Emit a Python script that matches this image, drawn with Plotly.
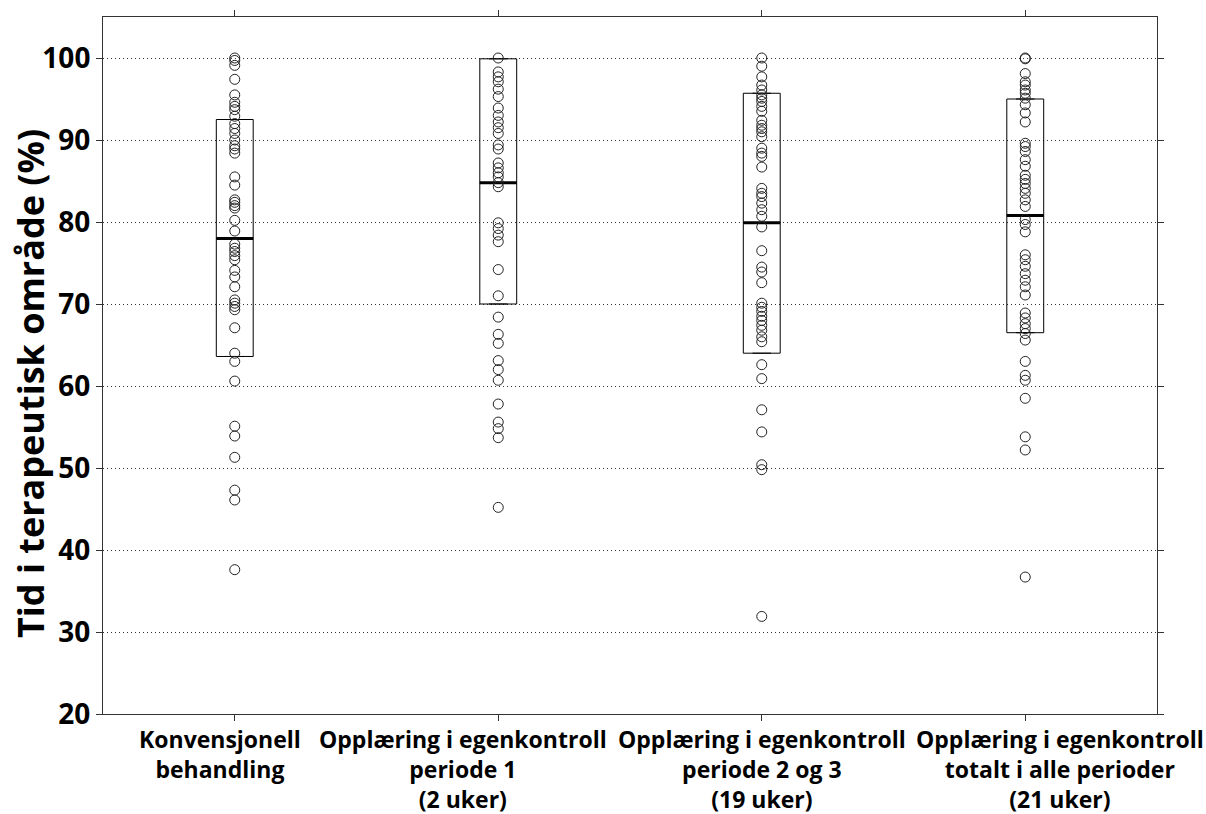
import plotly.graph_objects as go

# Group labels shown under the x axis
categories = [
    "Konvensjonell<br>behandling",
    "Opplæring i egenkontroll<br>periode 1<br>(2 uker)",
    "Opplæring i egenkontroll<br>periode 2 og 3<br>(19 uker)",
    "Opplæring i egenkontroll<br>totalt i alle perioder<br>(21 uker)",
]

# Time in therapeutic range (%) per patient, one list per group
konvensjonell = [100, 99.7, 99.1, 97.4, 95.5, 94.6, 94.1, 93.7, 92.9, 92.0, 91.4,
                 90.8, 90.0, 89.3, 88.9, 88.4, 85.5, 84.5, 82.7, 82.4, 82.0, 81.7,
                 80.2, 78.9, 77.3, 76.8, 76.4, 75.9, 75.4, 74.1, 73.3, 72.1, 70.5,
                 70.1, 69.7, 69.3, 67.1, 64.0, 63.0, 60.6, 55.1, 53.9, 51.3, 47.3,
                 46.1, 37.6]
periode1 = [100, 98.3, 97.7, 97.1, 96.2, 95.3, 93.9, 93.0, 92.2, 91.5, 90.8, 89.4,
            88.9, 87.2, 86.6, 86.0, 85.5, 84.8, 84.3, 79.9, 79.2, 78.4, 77.6, 74.2,
            71.0, 68.4, 66.3, 65.2, 63.1, 62.0, 60.7, 57.8, 55.6, 54.8, 53.7, 45.2]
periode23 = [100, 99.0, 97.7, 96.7, 96.1, 95.5, 95.1, 94.7, 94.1, 93.5, 92.4, 91.8,
             91.4, 91.0, 90.4, 89.0, 88.4, 88.0, 86.7, 84.1, 83.5, 83.1, 82.3, 81.5,
             80.7, 79.4, 76.5, 74.5, 73.9, 72.6, 70.1, 69.6, 69.1, 68.5, 68.0, 67.4,
             66.8, 66.0, 65.4, 62.6, 60.9, 57.1, 54.4, 50.4, 49.8, 31.9]
totalt = [100, 99.9, 98.1, 97.1, 96.7, 96.1, 95.7, 95.1, 94.3, 93.3, 92.2, 89.6,
          89.2, 88.6, 87.6, 86.8, 85.7, 85.2, 84.7, 84.1, 83.5, 82.7, 81.9, 80.3,
          79.7, 78.8, 76.0, 75.4, 74.6, 73.7, 72.9, 72.1, 71.1, 68.9, 68.3, 67.6,
          67.0, 66.4, 65.6, 63.0, 61.3, 60.7, 58.5, 53.8, 52.2, 36.7]
groups = [konvensjonell, periode1, periode23, totalt]

# Box bounds and medians per group
box_low = [63.6, 70.0, 64.0, 66.5]
box_median = [78.0, 84.8, 79.9, 80.8]
box_high = [92.5, 99.9, 95.7, 95.0]

y_ticks = [20, 30, 40, 50, 60, 70, 80, 90, 100]
y_title = "Tid i terapeutisk område (%)"

BOX_W = 0.14
FONT = "Open Sans"
# horizontal nudge (px) of each category label block
LABEL_SHIFT = [-15, -35, 0, 35]

fig = go.Figure()

for i, vals in enumerate(groups):
    fig.add_trace(go.Box(
        x=[i], q1=[box_low[i]], median=[box_median[i]], q3=[box_high[i]],
        lowerfence=[box_low[i]], upperfence=[box_high[i]],
        width=BOX_W, fillcolor="rgba(0,0,0,0)",
        line=dict(color="black", width=1), boxpoints=False,
        showlegend=False, hoverinfo="skip",
    ))
    # thick median bar across the box
    fig.add_trace(go.Scatter(
        x=[i - BOX_W / 2, i + BOX_W / 2], y=[box_median[i], box_median[i]],
        mode="lines", line=dict(color="black", width=3),
        showlegend=False, hoverinfo="skip",
    ))
    fig.add_trace(go.Scatter(
        x=[i] * len(vals), y=vals, mode="markers",
        marker=dict(symbol="circle-open", size=10, color="#222",
                    line=dict(width=1, color="#222")),
        showlegend=False,
    ))
    # category label under the axis
    fig.add_annotation(
        text=f"<b>{categories[i]}</b>", x=i, xref="x", y=0, yref="paper",
        xanchor="center", yanchor="top", yshift=-7, xshift=LABEL_SHIFT[i],
        showarrow=False, align="center",
        font=dict(family=FONT, size=23, color="black"),
    )

axis_common = dict(
    showline=True, linecolor="#333", linewidth=1, mirror="ticks",
    ticks="outside", ticklen=6, tickcolor="#333", tickwidth=1,
    zeroline=False, automargin=False,
)

fig.update_xaxes(
    **axis_common,
    range=[-0.5, 3.5], tickmode="array", tickvals=list(range(len(categories))),
    showticklabels=False, showgrid=False,
)
fig.update_yaxes(
    **axis_common,
    range=[20, 105], tickmode="array", tickvals=y_ticks,
    ticktext=[f"<b>{t}</b>" for t in y_ticks], tickangle=0,
    tickfont=dict(family=FONT, size=28, color="black"),
    showgrid=True, gridcolor="#333", gridwidth=1, griddash="1px,3px",
)

# rotated y-axis title placed as a free annotation
fig.add_annotation(
    text=f"<b>{y_title}</b>", textangle=-90,
    xref="paper", yref="paper", x=-0.0683, y=0.4735,
    xanchor="center", yanchor="middle", showarrow=False,
    font=dict(family=FONT, size=36, color="black"),
)

fig.update_layout(
    width=1206, height=814,
    margin=dict(l=103, r=49, t=17, b=100),
    plot_bgcolor="white", paper_bgcolor="white",
)

fig.write_html("out.html")
